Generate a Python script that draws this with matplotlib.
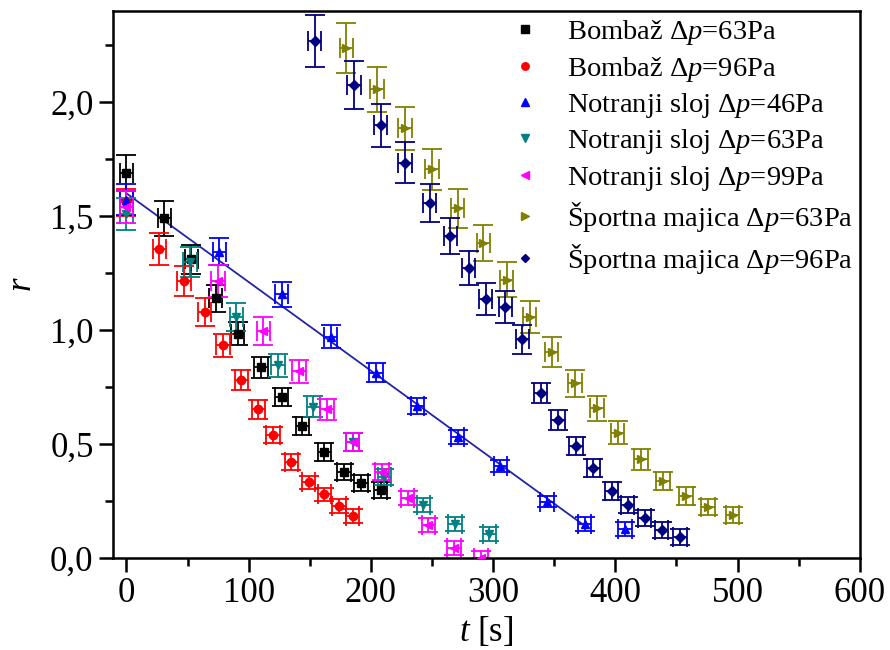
import matplotlib
matplotlib.use('Agg')
import matplotlib.pyplot as plt
from matplotlib.ticker import MultipleLocator, FuncFormatter
import numpy as np

plt.rcParams['font.family'] = ['Liberation Serif', 'DejaVu Serif']
plt.rcParams['mathtext.fontset'] = 'custom'
plt.rcParams['mathtext.rm'] = 'Liberation Serif'
plt.rcParams['mathtext.it'] = 'Liberation Serif:italic'

# Bombaz dp=63Pa
t_b63 = [0, 31, 53, 73, 91, 110, 127, 144, 162, 178, 192, 208]
r_b63 = [1.69, 1.49, 1.31, 1.14, 0.985, 0.836, 0.708, 0.579, 0.466, 0.376, 0.328, 0.298]
e_b63 = [0.08, 0.075, 0.065, 0.06, 0.05, 0.045, 0.04, 0.04, 0.04, 0.035, 0.035, 0.035]

# Bombaz dp=96Pa
t_b96 = [0, 27, 47, 64, 79, 94, 108, 120, 135, 149, 162, 174, 185]
r_b96 = [1.56, 1.355, 1.216, 1.08, 0.934, 0.781, 0.652, 0.539, 0.42, 0.332, 0.279, 0.228, 0.185]
e_b96 = [0.06, 0.07, 0.065, 0.06, 0.05, 0.045, 0.04, 0.035, 0.035, 0.03, 0.03, 0.03, 0.03]

# Notranji sloj dp=46Pa
t_n46 = [0, 76, 127, 167, 204, 238, 271, 306, 344, 375, 408]
r_n46 = [1.573, 1.344, 1.158, 0.971, 0.814, 0.667, 0.532, 0.404, 0.247, 0.148, 0.127]
e_n46 = [0.07, 0.06, 0.055, 0.05, 0.04, 0.035, 0.03, 0.025, 0.025, 0.03, 0.03]

# Notranji sloj dp=63Pa
t_n63 = [0, 52, 90, 124, 153, 185, 211, 243, 269, 297]
r_n63 = [1.51, 1.30, 1.058, 0.846, 0.664, 0.51, 0.357, 0.232, 0.149, 0.104]
e_n63 = [0.07, 0.065, 0.06, 0.05, 0.045, 0.04, 0.035, 0.03, 0.03, 0.03]

# Notranji sloj dp=99Pa
t_n99 = [0, 75, 112, 141, 164, 185, 209, 230, 247, 268, 290]
r_n99 = [1.54, 1.215, 0.996, 0.82, 0.652, 0.51, 0.379, 0.262, 0.145, 0.045, 0.0]
e_n99 = [0.07, 0.07, 0.06, 0.05, 0.045, 0.04, 0.035, 0.03, 0.03, 0.03, 0.03]

# Sportna majica dp=63Pa
t_s63 = [180, 205, 228, 250, 271, 292, 311, 330, 348, 367, 385, 402, 421, 439, 458, 476, 496]
r_s63 = [2.236, 2.056, 1.885, 1.705, 1.534, 1.383, 1.222, 1.058, 0.905, 0.766, 0.657, 0.55,
         0.433, 0.339, 0.272, 0.225, 0.189]
e_s63 = [0.11, 0.1, 0.095, 0.09, 0.085, 0.08, 0.075, 0.07, 0.065, 0.06, 0.055, 0.05,
         0.045, 0.04, 0.04, 0.035, 0.035]

# Sportna majica dp=96Pa
t_s96 = [154, 186, 208, 228, 248, 265, 280, 294, 310, 324, 339, 353, 368, 382, 397, 410,
         424, 438, 453]
r_s96 = [2.269, 2.075, 1.899, 1.734, 1.558, 1.412, 1.273, 1.136, 1.102, 0.959, 0.725, 0.605,
         0.491, 0.396, 0.295, 0.232, 0.174, 0.123, 0.094]
e_s96 = [0.114, 0.104, 0.095, 0.09, 0.085, 0.08, 0.075, 0.07, 0.07, 0.065, 0.045, 0.045,
         0.04, 0.04, 0.04, 0.035, 0.035, 0.035, 0.035]

# linear fit for Notranji sloj dp=46Pa
fit_t = [0, 372]
fit_r = [1.60, 0.153]

t_err = 5.5

series = [
    (t_b63, r_b63, e_b63, 's', '#000000', 'Bombaž Δ$p$=63Pa'),
    (t_b96, r_b96, e_b96, 'o', '#ff0000', 'Bombaž Δ$p$=96Pa'),
    (t_n46, r_n46, e_n46, '^', '#0000ff', 'Notranji sloj Δ$p$=46Pa'),
    (t_n63, r_n63, e_n63, 'v', '#008080', 'Notranji sloj Δ$p$=63Pa'),
    (t_n99, r_n99, e_n99, '<', '#ff00ff', 'Notranji sloj Δ$p$=99Pa'),
    (t_s63, r_s63, e_s63, '>', '#808000', 'Športna majica Δ$p$=63Pa'),
    (t_s96, r_s96, e_s96, 'D', '#000080', 'Športna majica Δ$p$=96Pa'),
]

fig = plt.figure(figsize=(8.9, 6.5), dpi=100)
ax = fig.add_axes([0.127, 0.1415, 0.839, 0.8415])

ax.plot(fit_t, fit_r, color='#2323a8', linewidth=1.3, zorder=1)

for t, r, e, m, c, lab in series:
    ax.errorbar(t, r, yerr=e, xerr=t_err, fmt='none', ecolor=c, elinewidth=1.3,
                capsize=7, capthick=1.3, zorder=2)
    ms = 5 if m == 'D' else 6
    ax.plot(t, r, linestyle='none', marker=m, color=c, markersize=ms, label=lab, zorder=3)

ax.set_xlim(-11, 600)
ax.set_ylim(0, 2.4)
ax.xaxis.set_major_locator(MultipleLocator(100))
ax.xaxis.set_minor_locator(MultipleLocator(50))
ax.yaxis.set_major_locator(MultipleLocator(0.5))
ax.yaxis.set_minor_locator(MultipleLocator(0.25))
ax.yaxis.set_major_formatter(FuncFormatter(lambda v, p: f'{v:.1f}'.replace('.', ',')))

ax.tick_params(which='both', direction='out', width=1.8, labelsize=25, top=False, right=False)
ax.tick_params(which='major', length=10, pad=4)
ax.tick_params(which='minor', length=6)
for s in ax.spines.values():
    s.set_linewidth(1.8)

ax.set_xlabel('$t$ [s]', fontsize=25, labelpad=3)
ax.set_ylabel('$r$', fontsize=25, labelpad=8)

ax.legend(loc='upper right', frameon=False, fontsize=20.5, handletextpad=0.7,
          labelspacing=0.26, borderaxespad=0.1, handlelength=1.5, borderpad=0.15,
          markerscale=0.9)

fig.savefig('out.png', dpi=100)
